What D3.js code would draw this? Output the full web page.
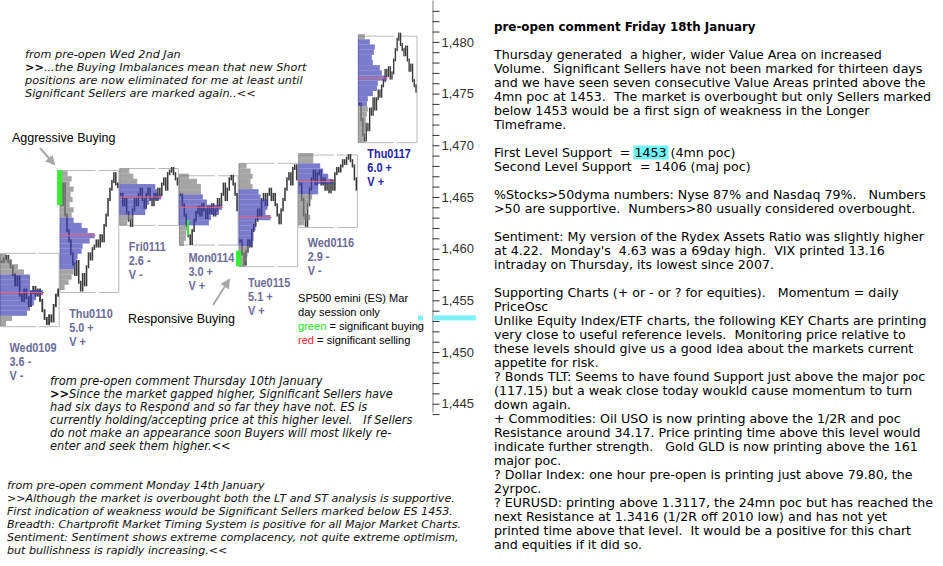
<!DOCTYPE html>
<html><head><meta charset="utf-8">
<script src="https://cdn.jsdelivr.net/npm/d3@7"></script>
<style>
body{margin:0;background:#fff;}
svg{display:block;}
text{white-space:pre;}
</style></head><body>
<svg id="c" width="943" height="566"></svg>
<script>
// ---------------- DATA ----------------
const days = ["Wed0109","Thu0110","Fri0111","Mon0114","Tue0115","Wed0116","Thu0117"];
const rangeStat = ["3.6 -","5.0 +","2.6 -","3.0 +","5.1 +","2.9 -","6.0 +"];
const valueStat = ["V -","V +","V -","V +","V +","V -","V +"];
const boxHigh = [1459.6, 1467.6, 1467.8, 1467.1, 1468.3, 1469.1, 1480.6];
const boxLow  = [1452.5, 1455.8, 1462.3, 1460.4, 1458.3, 1462.1, 1470.3];
// TPO profile: price of top row, rows step 0.5 downwards
const profTop = [1459.25, 1467.25, 1467.5, 1467.0, 1468.0, 1469.0, 1480.5];
const profCounts = [
  [6,12,18,24,30,30,30,43,36,34,30,27,12,6],
  [8,12,10,14,11,13,10,14,12,14,22,28,35,30,23,22,18,17,15,14,12,9,5],
  [10,14,18,36,38,42,30,27,26,14,8],
  [10,18,22,22,24,28,43,40,32,30,10,7,7,5],
  [8,12,14,12,14,20,22,29,29,27,32,17,17,15,15,14,10,9,8,6],
  [15,15,22,25,30,35,20,20,14,12,10,8,12,6],
  [7,12,17,16,14,15,22,24,29,20,19,15,10,9,10,9,8,9,8,7,6]
];
const vaHigh = [1457.25, 1462.75, 1466.0, 1465.0, 1465.5, 1468.0, 1480.0];
const vaLow  = [1453.75, 1458.25, 1463.5, 1462.5, 1460.5, 1465.5, 1474.0];
const poc    = [1455.75, 1461.25, 1465.0, 1464.0, 1463.0, 1466.5, 1476.5];
// intraday price path for each session
const prices = [
  [1458.75,1459.0,1459.25,1458.75,1458.25,1457.5,1456.5,1457.25,1455.5,1455.0,1456.0,1455.25,1454.5,1455.75,1456.25,1455.5,1456.0,1455.0,1454.0,1453.25,1452.75,1453.5,1453.0,1454.5,1455.5,1456.0],
  [1464.25,1466.25,1463.25,1461.75,1460.75,1459.5,1458.5,1457.5,1458.75,1456.75,1456.0,1457.5,1456.5,1458.25,1459.5,1459.0,1460.0,1460.25,1460.75,1460.25,1461.25,1460.75,1462.25,1463.25,1464.75,1465.75,1466.5,1467.25,1466.25,1466.0],
  [1465.25,1464.25,1464.75,1463.5,1462.75,1462.25,1463.75,1464.75,1464.25,1465.25,1465.75,1464.75,1464.0,1465.25,1465.75,1464.75,1464.25,1465.25,1464.75,1465.75,1465.25,1466.25,1466.75,1465.75,1467.25,1467.5,1467.75,1467.25,1466.75,1466.25],
  [1465.25,1464.25,1463.25,1462.25,1461.25,1460.5,1461.75,1462.75,1463.5,1464.0,1463.25,1464.25,1463.75,1463.0,1464.0,1463.5,1464.25,1463.25,1463.75,1464.75,1464.25,1465.25,1466.25,1464.75,1465.75,1466.75,1467.0,1466.25,1465.25,1463.75],
  [1460.75,1459.5,1458.5,1459.75,1460.75,1460.25,1461.75,1462.25,1462.75,1463.75,1463.25,1464.75,1465.25,1464.25,1465.25,1465.75,1464.75,1465.25,1464.25,1463.25,1462.5,1463.75,1464.75,1465.75,1466.75,1467.25,1466.25,1467.75,1468.0,1466.75],
  [1466.25,1464.75,1463.25,1462.25,1464.25,1465.75,1466.75,1467.5,1466.25,1467.25,1467.5,1466.25,1466.75,1465.75,1466.25,1465.5,1466.5,1465.75,1467.25,1467.75,1467.5,1468.0,1468.5,1468.25,1468.75,1469.0,1468.5,1468.0,1466.75,1465.75],
  [1474.0,1472.5,1471.0,1470.5,1472.0,1471.5,1473.5,1473.0,1474.5,1473.5,1474.5,1475.25,1474.75,1475.75,1476.25,1477.25,1476.75,1477.5,1476.5,1477.0,1478.25,1479.25,1480.25,1480.75,1479.75,1479.25,1478.75,1479.5,1478.25,1477.25,1477.75,1476.25,1475.75,1475.25]
];
// significant buying marks: [day index, time within day (0-1), high, low]
const buyMarks = [[1, 0.0, 1467.6, 1464.2], [3, 0.15, 1462.8, 1461.3], [4, 0.0, 1459.8, 1458.3]];
const supportLevel = 1453.3;
const tickValues = d3.range(1444, 1484);

const noteJan2 = ["from pre-open Wed 2nd Jan",
  ">>...the Buying Imbalances mean that new Short",
  "positions are now eliminated for me at least until",
  "Significant Sellers are marked again..<<"];
const noteJan10 = ["from pre-open comment Thursday 10th January",
  ">>Since the market gapped higher, Significant Sellers have",
  "had six days to Respond and so far they have not. ES is",
  "currently holding/accepting price at this higher level.   If Sellers",
  "do not make an appearance soon Buyers will most likely re-",
  "enter and seek them higher.<<"];
const noteJan14 = ["from pre-open comment Monday 14th January",
  ">>Although the market is overbought both the LT and ST analysis is supportive.",
  "First indication of weakness would be Significant Sellers marked below ES 1453.",
  "Breadth: Chartprofit Market Timing System is positive for all Major Market Charts.",
  "Sentiment: Sentiment shows extreme complacency, not quite extreme optimism,",
  "but bullishness is rapidly increasing.<<"];
const rightTitle = "pre-open comment Friday 18th January";
const rightBody = [
  "Thursday generated  a higher, wider Value Area on increased",
  "Volume.  Significant Sellers have not been marked for thirteen days",
  "and we have seen seven consecutive Value Areas printed above the",
  "4mn poc at 1453.  The market is overbought but only Sellers marked",
  "below 1453 would be a first sign of weakness in the Longer",
  "Timeframe.",
  "",
  "First Level Support  = 1453 (4mn poc)",
  "Second Level Support  = 1406 (maj poc)",
  "",
  "%Stocks>50dyma numbers: Nyse 87% and Nasdaq 79%.   Numbers",
  ">50 are supportive.  Numbers>80 usually considered overbought.",
  "",
  "Sentiment: My version of the Rydex Assets Ratio was slightly higher",
  "at 4.22.  Monday's  4.63 was a 69day high.  VIX printed 13.16",
  "intraday on Thursday, its lowest since 2007.",
  "",
  "Supporting Charts (+ or - or ? for equities).   Momentum = daily",
  "PriceOsc",
  "Unlike Equity Index/ETF charts, the following KEY Charts are printing",
  "very close to useful reference levels.  Monitoring price relative to",
  "these levels should give us a good idea about the markets current",
  "appetite for risk.",
  "? Bonds TLT: Seems to have found Support just above the major poc",
  "(117.15) but a weak close today woukld cause momentum to turn",
  "down again.",
  "+ Commodities: Oil USO is now printing above the 1/2R and poc",
  "Resistance around 34.17. Price printing time above this level would",
  "indicate further strength.   Gold GLD is now printing above the 161",
  "major poc.",
  "? Dollar Index: one hour pre-open is printing just above 79.80, the",
  "2yrpoc.",
  "? EURUSD: printing above 1.3117, the 24mn poc but has reached the",
  "next Resistance at 1.3416 (1/2R off 2010 low) and has not yet",
  "printed time above that level.  It would be a positive for this chart",
  "and equities if it did so."];
const legendLines = ["SP500 emini (ES) Mar", "day session only"];

// ---------------- LAYOUT ----------------
const svg = d3.select("#c");
const y = d3.scaleLinear().domain([1444.2, 1484.05]).range([412, 0]);
const x = d3.scaleLinear().domain([0, 7]).range([0, 417.5]);
const w = d3.scaleLinear().domain([0, 10]).range([0, 10]);
const axisX = 432.5;
const VERD = "'DejaVu Sans'", ARIAL = "'Liberation Sans'";

function measure(txt, font) {
  const t = svg.append("text").attr("x", -2000).attr("y", -2000).style("font", font).text(txt);
  const l = t.node().getComputedTextLength(); t.remove(); return l;
}
function fit(txt, fam, weight, style, target) {
  return 20 * target / measure(txt, `${style} ${weight} 20px ${fam}`);
}

const gChart = svg.append("g");

// boxes (outline with a small break on top and bottom edges)
days.forEach((d, i) => {
  const W = x(i + 1) - x(i) - 1, H = y(boxLow[i]) - y(boxHigh[i]);
  const a = 0.63 * W - 1.5, b = 0.37 * W - 1.5;
  gChart.append("rect")
    .attr("x", x(i) + 0.5).attr("y", y(boxHigh[i]) + 0.5)
    .attr("width", W).attr("height", H)
    .attr("fill", "none").attr("stroke", "#b9b9b9").attr("stroke-width", 1)
    .attr("stroke-dasharray", `${a},3,${b + H + b},3,${a + H}`);
});

// price bars
prices.forEach((arr, i) => {
  const n = arr.length;
  const t = d3.scaleLinear().domain([0, n - 1]).range([x(i) + 1.5, x(i + 1) - 1.5]);
  const bw = (t(1) - t(0)) * 0.8;
  arr.forEach((p, j) => {
    const prev = j === 0 ? p : arr[j - 1];
    const hi = Math.max(p, prev), lo = Math.min(p, prev);
    gChart.append("rect")
      .attr("x", t(j) - bw / 2).attr("y", y(hi) - 1.5)
      .attr("width", bw).attr("height", y(lo) - y(hi) + 3)
      .attr("fill", "#3a3a3a");
  });
});

// profiles
profCounts.forEach((counts, i) => {
  const rowH = y(0) - y(0.5);
  counts.forEach((c, k) => {
    const price = profTop[i] - k * 0.5;
    const inVA = price <= vaHigh[i] + 1e-6 && price >= vaLow[i] - 1e-6;
    gChart.append("rect")
      .attr("x", x(i)).attr("y", y(price + 0.25))
      .attr("width", w(c)).attr("height", rowH)
      .attr("fill", inVA ? "#3c3cb4" : "#7f7f7f")
      .attr("fill-opacity", inVA ? 0.68 : 0.7);
  });
  const k = Math.round((profTop[i] - poc[i]) / 0.5);
  gChart.append("line")
    .attr("x1", x(i)).attr("x2", x(i) + w(counts[Math.max(0, Math.min(counts.length - 1, k))]) + 1)
    .attr("y1", y(poc[i])).attr("y2", y(poc[i]))
    .attr("stroke", "#f4606a").attr("stroke-width", 1);
});

// significant buying marks
buyMarks.forEach(([di, tt, hi, lo]) => {
  const bx = x(di) + tt * (x(di + 1) - x(di));
  const ww = tt === 0 ? 5 : 2;
  gChart.append("rect").attr("x", bx - ww / 2).attr("y", y(hi))
    .attr("width", ww).attr("height", y(lo) - y(hi)).attr("fill", "#33ee33");
});

// day labels
const labelBase = [351.5, 317.5, 250.5, 261.5, 286.5, 246.5, 157.5];
const lblFont = `bold 12.5px ${ARIAL}`;
const lblScale = 47 / measure("Wed0109", lblFont);
days.forEach((d, i) => {
  const col = i === 6 ? "#2323a8" : "#6c6c98";
  [d, rangeStat[i], valueStat[i]].forEach((s, k) => {
    const t = svg.append("text").attr("x", x(i) + 9.5).attr("y", labelBase[i] + k * 14)
      .style("font", lblFont).attr("fill", col).text(s);
    t.attr("textLength", t.node().getComputedTextLength() * lblScale).attr("lengthAdjust", "spacingAndGlyphs");
  });
});

// axis
const gAxis = svg.append("g").attr("transform", `translate(${axisX},0)`)
  .call(d3.axisRight(y).tickValues(tickValues).tickSize(7).tickSizeOuter(0).tickPadding(2)
    .tickFormat(v => v % 5 === 0 ? d3.format(",")(v) : ""));
gAxis.select(".domain").attr("stroke", "#9c9c9c").attr("stroke-width", 1.3);
gAxis.selectAll(".tick line").attr("stroke", "#333");
gAxis.selectAll(".tick text").style("font", `13px ${ARIAL}`).attr("fill", "#333");

// support marker
svg.append("rect").attr("x", 418).attr("y", y(supportLevel) - 2.5).attr("width", 5).attr("height", 5).attr("fill", "#7ff0f8");
svg.append("rect").attr("x", axisX + 0.5).attr("y", y(supportLevel) - 2.5).attr("width", 43).attr("height", 5).attr("fill", "#7ff0f8");

// text blocks
function block(lines, opt) {
  const size = fit(lines[opt.ref], opt.family, opt.weight || "normal", opt.style || "normal", opt.target);
  const nodes = [];
  lines.forEach((s, i) => {
    const t = svg.append("text").attr("x", opt.x).attr("y", opt.y + i * opt.lh)
      .style("font", `${opt.style || "normal"} ${opt.weight || "normal"} ${size}px ${opt.family}`)
      .attr("fill", opt.fill || "#000");
    if (opt.boldLead && s.startsWith(">>")) {
      t.append("tspan").style("font-weight", "bold").style("font-style", "normal").text(">>");
      t.append("tspan").text(s.slice(2));
    } else t.text(s);
    nodes.push(t);
  });
  return {nodes, size};
}

block(noteJan2, {x: 25, y: 57.5, lh: 13, family: VERD, style: "italic", ref: 2, target: 278, boldLead: true, fill: "#111"});
block(noteJan10, {x: 50, y: 384.5, lh: 13, family: VERD, style: "italic", ref: 3, target: 363, boldLead: true, fill: "#111"});
block(noteJan14, {x: 7, y: 488.5, lh: 13, family: VERD, style: "italic", ref: 1, target: 448, fill: "#111"});

const tSize = fit(rightTitle, VERD, "bold", "normal", 262);
svg.append("text").attr("x", 494).attr("y", 30.5).style("font", `bold ${tSize}px ${VERD}`).text(rightTitle);
const body = block(rightBody, {x: 494, y: 58.5, lh: 14, family: VERD, ref: 0, target: 388});
// highlight 1453
{
  const node = body.nodes[7].node();
  const s = rightBody[7];
  const i0 = s.indexOf("1453");
  const x0 = node.getStartPositionOfChar(i0).x, x1 = node.getEndPositionOfChar(i0 + 3).x;
  svg.insert("rect", "text").attr("x", x0 - 1).attr("y", 58.5 + 7 * 14 - 11).attr("width", x1 - x0 + 3).attr("height", 14).attr("fill", "#70f6f6");
}

// legend
const lgSize = fit("green = significant buying", ARIAL, "normal", "normal", 126);
legendLines.forEach((s, i) => {
  svg.append("text").attr("x", 298).attr("y", 302 + i * 14).style("font", `${lgSize}px ${ARIAL}`).text(s);
});
{
  const t1 = svg.append("text").attr("x", 298).attr("y", 330).style("font", `${lgSize}px ${ARIAL}`);
  t1.append("tspan").attr("fill", "#19e619").text("green");
  t1.append("tspan").text(" = significant buying");
  const t2 = svg.append("text").attr("x", 298).attr("y", 344).style("font", `${lgSize}px ${ARIAL}`);
  t2.append("tspan").attr("fill", "#ff1a1a").text("red");
  t2.append("tspan").text(" = significant selling");
}

// annotations with arrows
const anSize = fit("Responsive Buying", ARIAL, "normal", "normal", 107);
svg.append("text").attr("x", 12).attr("y", 142).style("font", `${anSize}px ${ARIAL}`).text("Aggressive Buying");
svg.append("text").attr("x", 128).attr("y", 323).style("font", `${anSize}px ${ARIAL}`).text("Responsive Buying");
svg.append("defs").append("marker").attr("id", "ah").attr("viewBox", "0 0 10 10").attr("refX", 8).attr("refY", 5)
  .attr("markerWidth", 5).attr("markerHeight", 5).attr("orient", "auto")
  .append("path").attr("d", "M0,0L10,5L0,10z").attr("fill", "#a8a8a8");
[[40, 148, 54, 164], [213, 305, 229, 280]].forEach(([a, b, c, d]) => {
  svg.append("line").attr("x1", a).attr("y1", b).attr("x2", c).attr("y2", d)
    .attr("stroke", "#a8a8a8").attr("stroke-width", 2).attr("marker-end", "url(#ah)");
});
</script></body></html>
